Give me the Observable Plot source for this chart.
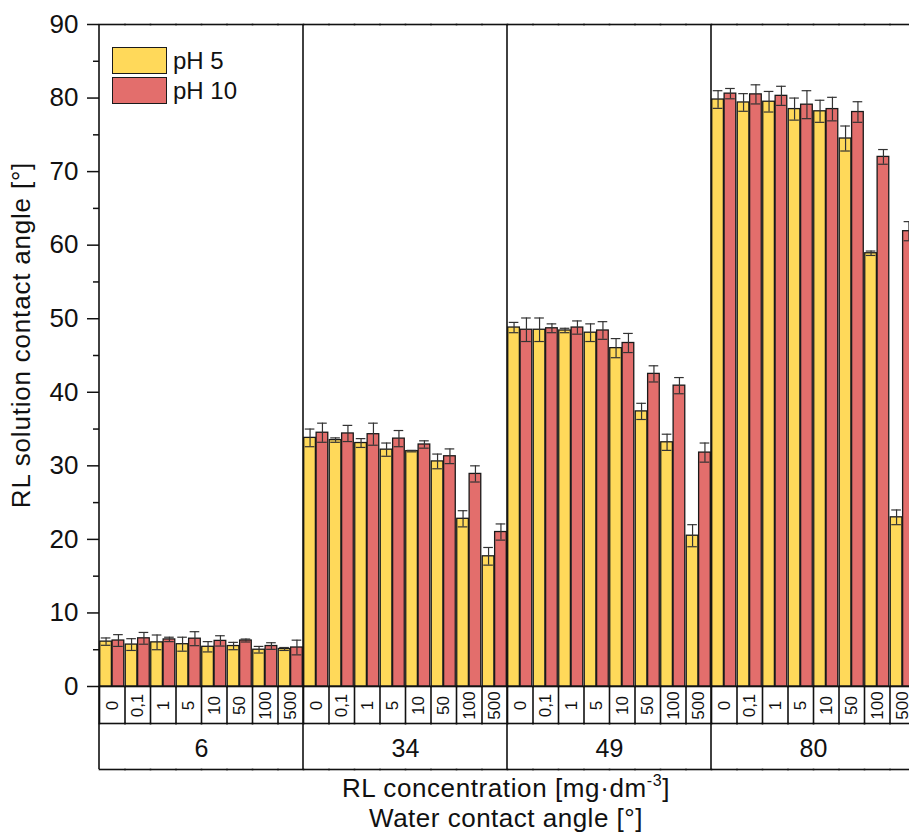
<!DOCTYPE html>
<html>
<head>
<meta charset="utf-8">
<script src="https://cdn.jsdelivr.net/npm/d3@7"></script>
<script src="https://cdn.jsdelivr.net/npm/@observablehq/plot@0.6"></script>
<style>
  body { margin: 0; background: #fff; }
  #wrap { position: relative; width: 909px; height: 838px; overflow: hidden; background: #fff;
          font-family: "Liberation Sans", Arial, sans-serif; color: #111; }
  #wrap svg { position: absolute; left: 0; top: 0; max-width: none !important; width: 921px !important; height: 838px !important; }
  .abs { position: absolute; white-space: nowrap; line-height: 1; }
  .sw { position: absolute; width: 53px; height: 25px; border: 1.5px solid #1a1a1a; }
</style>
</head>
<body>
<div id="wrap"></div>
<script>
// ---- data ----
const groups = ["6", "34", "49", "80"];                 // water contact angle [°]
const concentrations = ["0", "0,1", "1", "5", "10", "50", "100", "500"]; // RL concentration
const seriesNames = ["pH 5", "pH 10"];
const yTicks = [0, 10, 20, 30, 40, 50, 60, 70, 80, 90];
const yMinorTicks = [5, 15, 25, 35, 45, 55, 65, 75, 85];

const ph5Values = [
  6.1, 5.7, 6.0, 5.75, 5.4, 5.5, 5.0, 5.1,
  33.8, 33.5, 33.1, 32.2, 32.0, 30.6, 22.8, 17.7,
  48.8, 48.5, 48.4, 48.1, 46.0, 37.4, 33.2, 20.5,
  79.8, 79.4, 79.5, 78.5, 78.2, 74.5, 58.9, 23.0
];
const ph10Values = [
  6.25, 6.55, 6.4, 6.5, 6.2, 6.25, 5.5, 5.3,
  34.5, 34.4, 34.3, 33.7, 32.9, 31.3, 28.9, 21.0,
  48.5, 48.7, 48.8, 48.4, 46.7, 42.5, 40.9, 31.8,
  80.6, 80.5, 80.3, 79.1, 78.5, 78.1, 72.0, 61.9
];
const ph5Errors = [
  0.5, 0.8, 1.0, 0.95, 0.7, 0.5, 0.45, 0.2,
  1.2, 0.3, 0.6, 0.9, 0.1, 1.0, 1.1, 1.2,
  0.7, 1.6, 0.3, 1.2, 1.3, 1.1, 1.1, 1.5,
  1.2, 1.2, 1.4, 1.5, 1.5, 1.7, 0.3, 1.0
];
const ph10Errors = [
  0.8, 0.8, 0.3, 0.95, 0.7, 0.2, 0.45, 1.0,
  1.3, 1.1, 1.5, 1.1, 0.5, 1.0, 1.1, 1.1,
  1.6, 0.6, 0.9, 1.2, 1.3, 1.1, 1.1, 1.3,
  0.7, 1.3, 1.3, 1.9, 1.6, 1.4, 1.0, 1.3
];
const seriesColors = ["#FFD95A", "#E36E6C"];

// ---- tables built from the arrays ----
const cells = groups.flatMap(g => concentrations.map(c => ({group: g, conc: c, key: g + "|" + c})));
const keys = cells.map(d => d.key);
const rows = cells.flatMap((cell, k) => [
  {...cell, series: seriesNames[0], value: ph5Values[k], err: ph5Errors[k]},
  {...cell, series: seriesNames[1], value: ph10Values[k], err: ph10Errors[k]}
]);

const W = 921, H = 838, marginTop = 24, marginBottom = 152;
const plotH = H - marginTop - marginBottom;
const line = {stroke: "#111", strokeWidth: 1.6};

const plot = Plot.plot({
  width: W, height: H,
  marginLeft: 99, marginRight: 6, marginTop, marginBottom,
  style: {fontFamily: "'Liberation Sans', Arial, sans-serif", background: "transparent", color: "#111", overflow: "visible", maxWidth: "none"},
  fx: {domain: keys, padding: 0, round: false, axis: null, label: null},
  x: {domain: seriesNames, padding: 0.06, round: false, axis: null, label: null},
  y: {domain: [0, 90], axis: null},
  color: {domain: seriesNames, range: seriesColors},
  marks: [
    Plot.barY(rows, {fx: "key", x: "series", y: "value", fill: "series", stroke: "#1a1a1a", strokeWidth: 1.3}),
    Plot.ruleX(rows, {fx: "key", x: "series", y1: d => d.value - d.err, y2: d => d.value + d.err, stroke: "#333", strokeWidth: 1.2}),
    Plot.tickY(rows, {fx: "key", x: "series", y: d => d.value + d.err, inset: 1, stroke: "#333", strokeWidth: 1.2}),
    Plot.tickY(rows, {fx: "key", x: "series", y: d => d.value - d.err, inset: 1, stroke: "#333", strokeWidth: 1.2}),
    Plot.axisY({ticks: yTicks, tickSize: 12, tickPadding: 9, fontSize: 26, label: null, strokeWidth: 1.5, color: "#111"}),
    Plot.axisY({ticks: yMinorTicks, tickSize: 6, tickFormat: () => "", label: null, strokeWidth: 1.5}),
    Plot.frame({anchor: "top", ...line}),
    Plot.frame({anchor: "bottom", ...line}),
    Plot.frame({anchor: "bottom", insetBottom: -37, ...line}),
    Plot.frame({anchor: "bottom", insetBottom: -83, ...line}),
    Plot.frame({anchor: "left", insetTop: plotH, insetBottom: -37, ...line}),
    Plot.text(cells, {fx: "key", text: "conc", frameAnchor: "bottom", textAnchor: "middle", lineAnchor: "middle",
                      dy: 19, rotate: -90, fontSize: 17, fill: "#111"}),
    Plot.text(cells.filter(d => d.conc === "5"), {fx: "key", text: "group", frameAnchor: "bottom-right",
                      textAnchor: "middle", lineAnchor: "middle", dy: 62, fontSize: 25, fill: "#111"})
  ]
});

const wrap = document.getElementById("wrap");
wrap.appendChild(plot);

// group divider lines positioned with Plot's own fx scale
const fx = plot.scale("fx");
const svg = d3.select(plot);
groups.forEach(g => {
  const x = fx.apply(g + "|" + concentrations[0]);
  svg.append("line").attr("x1", x).attr("x2", x)
    .attr("y1", marginTop).attr("y2", H - marginBottom + 83)
    .attr("stroke", "#111").attr("stroke-width", 1.6);
});

// y-axis title
const yt = document.createElement("div");
yt.className = "abs";
yt.style.cssText = "left:21px;top:335px;font-size:26px;letter-spacing:0.8px;transform:translate(-50%,-50%) rotate(-90deg);";
yt.textContent = "RL solution contact angle [°]";
wrap.appendChild(yt);

// x-axis titles
const xt1 = document.createElement("div");
xt1.className = "abs";
xt1.style.cssText = "left:506px;top:775px;font-size:26px;letter-spacing:0.6px;transform:translateX(-50%);";
xt1.innerHTML = "RL concentration [mg\u00B7dm<span style=\"font-size:16px;position:relative;top:-11px\">-3</span>]";
wrap.appendChild(xt1);

const xt2 = document.createElement("div");
xt2.className = "abs";
xt2.style.cssText = "left:506px;top:805px;font-size:26px;letter-spacing:0.5px;transform:translateX(-50%);";
xt2.textContent = "Water contact angle [°]";
wrap.appendChild(xt2);

// legend
seriesNames.forEach((name, i) => {
  const sw = document.createElement("div");
  sw.className = "sw";
  sw.style.left = "112px";
  sw.style.top = (47 + i * 30) + "px";
  sw.style.background = seriesColors[i];
  wrap.appendChild(sw);
  const lab = document.createElement("div");
  lab.className = "abs";
  lab.style.cssText = `left:173px;top:${49 + i * 30}px;font-size:24px;`;
  lab.textContent = name;
  wrap.appendChild(lab);
});
</script>
</body>
</html>
